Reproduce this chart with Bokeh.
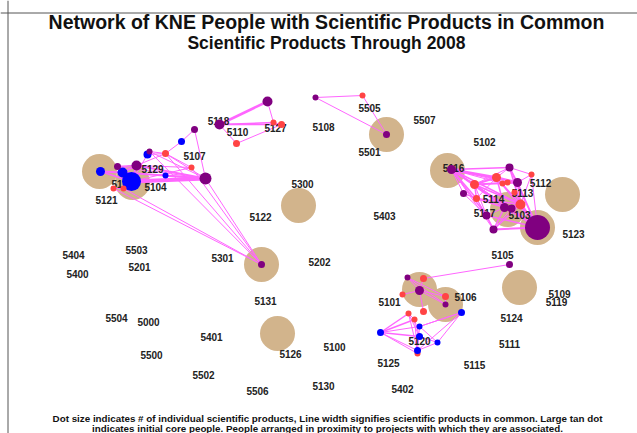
from bokeh.plotting import figure
from bokeh.models import ColumnDataSource, Range1d, Label, Span
from bokeh.core.properties import value
from bokeh.embed import file_html
from bokeh.resources import INLINE

# ---- data (layout positions of people, in layout units) ----
node_x = [131, 100, 122, 117, 136, 147, 149, 165, 181, 194, 191, 165, 205, 113, 123,
          219, 267, 273, 281, 236,
          261,
          315, 362, 386,
          451, 509, 496, 474, 502, 507, 517, 531, 463, 514, 476, 520, 504, 511, 486, 493, 537,
          509,
          407, 423, 419, 402, 445, 445, 423, 461, 408, 414, 419, 380, 419, 437, 417, 417]
node_y = [181, 171, 172, 166, 165, 154, 151, 153, 141, 129, 167, 175, 178, 188, 188,
          124, 101, 122, 124, 143,
          264,
          97, 95, 134,
          169, 167, 177, 184, 183, 182, 182, 174, 193, 192, 198, 204, 207, 208, 215, 229, 227,
          264,
          277, 278, 290, 294, 296, 304, 311, 312, 313, 319, 326, 332, 336, 342, 353, 350]
node_products = [19, 9, 10, 7, 10, 8, 6, 7, 7, 7, 6, 6, 12, 6, 6,
                 10, 10, 6, 7, 7,
                 7,
                 6, 6, 7,
                 9, 8, 9, 9, 6, 6, 9, 6, 7, 6, 7, 10, 9, 8, 8, 8, 25,
                 7,
                 6, 7, 9, 6, 7, 6, 7, 7, 6, 6, 6, 7, 7, 6, 6, 7]
node_group = ["b", "b", "b", "p", "p", "b", "p", "r", "b", "p", "r", "b", "p", "r", "r",
              "p", "p", "r", "r", "r",
              "p",
              "p", "r", "p",
              "p", "p", "r", "r", "r", "r", "p", "r", "p", "r", "r", "r", "p", "p", "p", "p", "p",
              "p",
              "p", "r", "p", "r", "r", "p", "r", "b", "r", "r", "b", "b", "b", "b", "r", "b"]

edge_src = [0, 2, 4, 11, 1, 1, 3, 2, 0, 0, 4, 5, 6, 6, 7, 7, 7, 8, 9, 10, 10, 13, 14, 6, 7, 10, 13, 3, 0, 5, 12,
            15, 15, 15, 16, 19, 19, 17,
            21, 21, 22,
            24, 24, 24, 24, 24, 24, 24, 24, 24, 24, 24, 24, 24, 24,
            25, 25, 25, 25, 25, 25,
            26, 26, 26, 26, 26, 26,
            27, 27, 27, 27, 27, 27,
            28, 28, 29, 30, 30, 30, 30, 31, 31,
            32, 32, 32, 33, 33, 34, 34, 34, 34,
            35, 35, 35, 35, 36, 36, 36, 36, 37, 37, 38, 38, 39,
            41, 42, 42, 42, 43, 44, 44, 44, 44, 46,
            53, 53, 53, 53, 53, 53, 50, 50, 51, 51, 52, 52, 49, 49, 54, 55, 52, 50, 49]
edge_dst = [12, 12, 12, 12, 2, 0, 4, 4, 4, 2, 7, 7, 7, 12, 12, 10, 8, 9, 12, 0, 4, 20, 20, 20, 20, 20, 14, 12, 5, 6, 20,
            16, 17, 18, 17, 18, 15, 18,
            22, 23, 23,
            25, 26, 27, 28, 30, 32, 34, 35, 36, 37, 38, 39, 40, 29,
            26, 30, 31, 35, 40, 27,
            27, 30, 35, 36, 40, 34,
            30, 35, 36, 38, 34, 37,
            29, 30, 30, 31, 35, 40, 33,
            40, 35,
            34, 38, 36, 35, 40, 36, 38, 39, 35,
            36, 37, 40, 39, 37, 39, 40, 38, 40, 39, 39, 40, 40,
            43, 44, 46, 47, 44, 45, 46, 47, 48, 47,
            50, 51, 52, 54, 57, 56, 54, 57, 57, 54, 57, 49, 55, 57, 55, 57, 55, 51, 52]
edge_common = [4, 2, 2, 1.5, 2, 1.5, 1.5, 1.5, 2, 2, 1, 1, 1, 1, 1, 1, 1, 1, 1, 1, 1, 1, 1, 1, 1, 1, 1, 1, 1, 1, 1,
               2.5, 1.5, 1.5, 1, 1, 1, 1,
               1, 1, 1,
               1.5, 2.5, 1.5, 1, 1.5, 1, 1.5, 1.5, 1.5, 1, 1.5, 1, 1.5, 1,
               1, 1.5, 1, 1.5, 1.5, 1,
               2, 2.5, 1.5, 1.5, 1.5, 1,
               2, 1.5, 1.5, 1, 1.5, 1,
               1, 1, 1, 1, 1.5, 1.5, 1,
               1, 1,
               1, 1, 1, 1, 1, 1.5, 1, 1, 1.5,
               1.5, 1.5, 2.5, 1.5, 2, 1.5, 1.5, 1, 1.5, 1, 1.5, 1.5, 2,
               1, 1, 1, 1, 1, 1, 1, 1, 1, 1,
               1.5, 1.5, 1, 1.5, 1, 1, 1, 1, 1, 1, 1, 1, 1, 1, 1, 1, 1, 1, 1]

core_x = [99, 132, 386, 447, 298, 562, 507, 537, 261, 277, 419, 445, 519]
core_y = [171, 182, 134, 170, 205, 194, 209, 227, 264, 333, 289, 304, 287]

label_text = ["5118", "5110", "5127", "5108", "5505", "5507", "5501", "5102", "5116", "5107",
              "5129", "5104", "5128", "5121", "5300", "5122", "5403", "5112", "5113", "5114",
              "5117", "5103", "5123", "5105", "5404", "5503", "5301", "5202", "5400", "5201",
              "5109", "5119", "5106", "5101", "5124", "5131", "5504", "5000", "5401", "5120",
              "5100", "5111", "5126", "5500", "5125", "5115", "5502", "5130", "5506", "5402"]
label_x = [218, 237, 275, 323, 369, 424, 369, 484, 453, 194,
           152, 155, 122, 106, 302, 260, 384, 540, 522, 493,
           484, 519, 573, 502, 73, 136, 222, 319, 77, 139,
           559, 556, 465, 389, 511, 265, 116, 148, 211, 419,
           334, 509, 290, 151, 388, 474, 203, 323, 257, 402]
label_y = [120, 131, 127, 126, 107, 119, 151, 141, 167, 155,
           168, 186, 183, 199, 183, 216, 215, 182, 192, 198,
           212, 214, 233, 254, 254, 249, 257, 261, 273, 266,
           293, 301, 296, 301, 317, 300, 317, 321, 336, 340,
           346, 343, 353, 354, 362, 364, 374, 385, 390, 388]

title_text = "Network of KNE People with Scientific Products in Common"
subtitle_text = "Scientific Products Through 2008"
note_lines = ["Dot size indicates # of individual scientific products, Line width signifies scientific products in common. Large tan dot",
              "indicates initial core people. People arranged in proximity to projects with which they are associated."]

group_color = {"b": "#0000FF", "p": "#800080", "r": "#FF4444"}

# ---- figure ----
W, H = 637, 433
p = figure(width=W, height=H, output_backend="svg", toolbar_location=None,
           x_range=Range1d(0, W), y_range=Range1d(H, 0),
           min_border=0, outline_line_color=None, background_fill_color="white",
           border_fill_color="white")
p.axis.visible = False
p.grid.visible = False

FONT_NAME = "Liberation Sans"
FONT = value(FONT_NAME)

# frame lines (left and top)
p.add_layout(Span(location=7.5, dimension="height", line_color="#555555", line_width=1))
p.add_layout(Span(location=12.5, dimension="width", line_color="#555555", line_width=1))

# core people (tan)
p.scatter(x=core_x, y=core_y, size=35, color="#D2B48C", line_color=None)

# edges
edges = ColumnDataSource(dict(
    x0=[node_x[s] for s in edge_src], y0=[node_y[s] for s in edge_src],
    x1=[node_x[d] for d in edge_dst], y1=[node_y[d] for d in edge_dst],
    w=edge_common))
p.segment(x0="x0", y0="y0", x1="x1", y1="y1", line_width="w", line_color="#FF66FF", source=edges)

# labels
lab = ColumnDataSource(dict(x=label_x, y=label_y, t=label_text))
p.text(x="x", y="y", text="t", source=lab, text_font=FONT, text_font_style="bold",
       text_font_size="10px", text_color="#222222", text_align="center", text_baseline="middle")

# nodes
nodes = ColumnDataSource(dict(x=node_x, y=node_y, s=node_products,
                              c=[group_color[g] for g in node_group]))
p.scatter(x="x", y="y", size="s", fill_color="c", line_color=None, source=nodes)

# titles
p.add_layout(Label(x=326, y=21, text=title_text, text_font=FONT_NAME, text_font_style="bold",
                   text_font_size="19.5px", text_color="#111111", text_align="center",
                   text_baseline="middle"))
p.add_layout(Label(x=326, y=42, text=subtitle_text, text_font=FONT_NAME, text_font_style="bold",
                   text_font_size="17.5px", text_color="#111111", text_align="center",
                   text_baseline="middle"))
for i, line in enumerate(note_lines):
    p.add_layout(Label(x=327, y=418 + 9.5 * i, text=line, text_font=FONT_NAME, text_font_style="bold",
                       text_font_size="9.8px", text_color="#111111", text_align="center",
                       text_baseline="middle"))

open("out.html", "w").write(file_html(p, INLINE))
